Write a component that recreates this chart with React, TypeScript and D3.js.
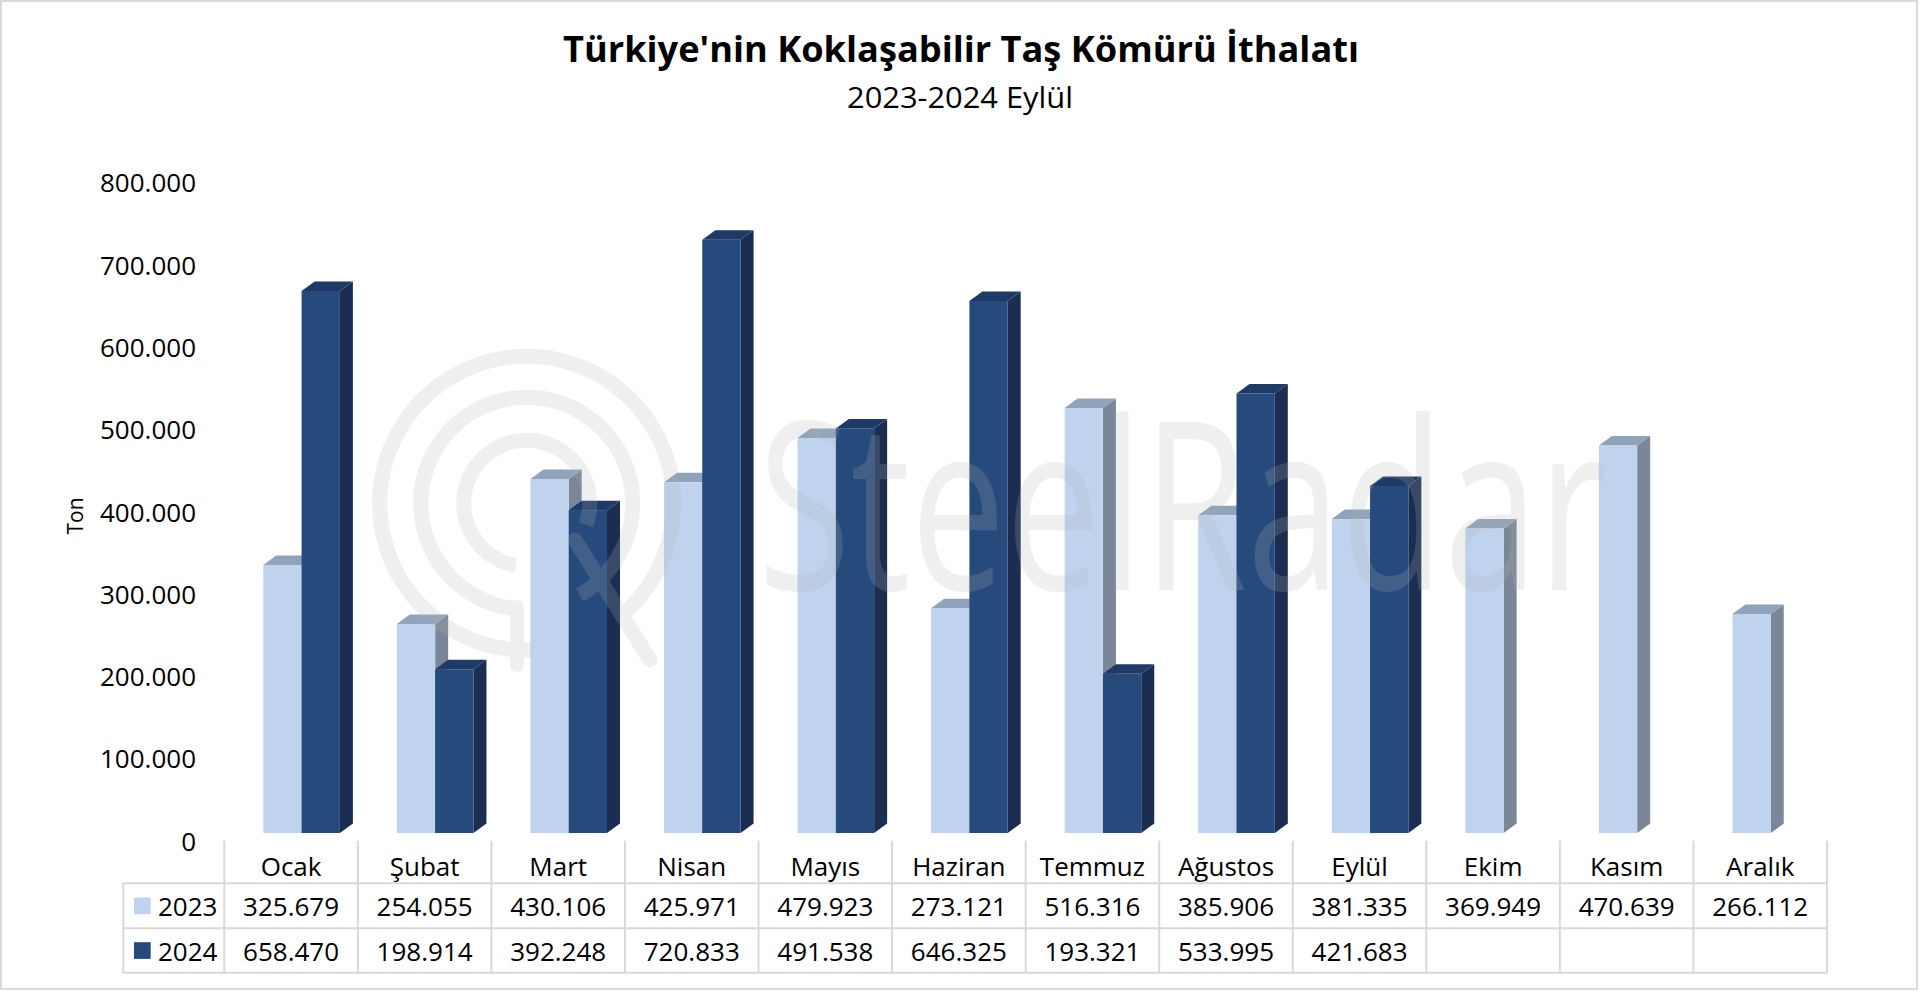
import React from "react";
import * as d3 from "d3";

const months = ["Ocak", "Şubat", "Mart", "Nisan", "Mayıs", "Haziran", "Temmuz", "Ağustos", "Eylül", "Ekim", "Kasım", "Aralık"];
const series = ["2023", "2024"];
const values2023: (number | null)[] = [325679, 254055, 430106, 425971, 479923, 273121, 516316, 385906, 381335, 369949, 470639, 266112];
const values2024: (number | null)[] = [658470, 198914, 392248, 720833, 491538, 646325, 193321, 533995, 421683, null, null, null];
const yTicks = [0, 100000, 200000, 300000, 400000, 500000, 600000, 700000, 800000];
const titleText = "Türkiye'nin Koklaşabilir Taş Kömürü İthalatı";
const subtitleText = "2023-2024 Eylül";
const axisTitle = "Ton";

const W = 1920;
const H = 991;
const FONT = "'Open Sans', 'Noto Sans', sans-serif";

const colors = {
  "2023": { front: "#bfd3ee", top: "#8fa3ba", side: "#7b8798" },
  "2024": { front: "#264a7c", top: "#1e3a66", side: "#1b2e52" },
};

const fmt = d3.formatLocale({ decimal: ",", thousands: ".", grouping: [3], currency: ["", ""] }).format(",d");

export default function App() {
  const x = d3.scaleBand<string>().domain(months).range([224.3, 1827]).paddingInner(0).paddingOuter(0);
  const xs = d3.scaleBand<string>().domain(series).range([39, 39 + 76.6]).padding(0);
  const y = d3.scaleLinear().domain([0, 800000]).range([840.8, 182.3]);
  const frontOff = 7.8;
  const dx = 13;
  const dy = 9.5;

  const bars: JSX.Element[] = [];
  months.forEach((m, i) => {
    const vals = [values2023[i], values2024[i]];
    series.forEach((s, j) => {
      const v = vals[j];
      if (v == null) return;
      const c = (colors as any)[s];
      const x0 = (x(m) as number) + (xs(s) as number);
      const w = xs.bandwidth();
      const yt = y(v) - frontOff;
      const yb = y(0) - frontOff;
      const top = `${x0},${yt} ${x0 + dx},${yt - dy} ${x0 + w + dx},${yt - dy} ${x0 + w},${yt}`;
      const side = `${x0 + w},${yt} ${x0 + w + dx},${yt - dy} ${x0 + w + dx},${yb - dy} ${x0 + w},${yb}`;
      bars.push(
        <g key={m + s}>
          <polygon points={side} fill={c.side} />
          <polygon points={top} fill={c.top} />
          <rect x={x0} y={yt} width={w} height={yb - yt} fill={c.front} />
        </g>
      );
    });
  });

  const tLeft = 123.3;
  const tRight = 1827;
  const yHeadTop = 840.7;
  const yRow1 = 883.3;
  const yRow2 = 928.3;
  const yRow3 = 972.7;
  const gridColor = "#d9d9d9";

  const cx = 526.7;
  const cy = 503.3;
  const arc = d3.arc();
  const deg = Math.PI / 180;
  const ringW = 15;
  const rings = [
    { r: 147, s: 178, e: 140 + 360 },
    { r: 106, s: 185, e: 150 + 360 },
    { r: 63, s: 190, e: 110 + 360 },
  ];

  return (
    <svg width={W} height={H} style={{ position: "absolute", left: 0, top: 0, background: "#fff" }} fontFamily={FONT}>
      <rect x={0} y={0} width={W} height={H} fill="#ffffff" />
      <rect x={1} y={1} width={1916} height={988} fill="none" stroke="#d9d9d9" strokeWidth={2} />

      <text x={961} y={62} textAnchor="middle" fontSize={36} fontWeight={700} fill="#000" textLength={796} lengthAdjust="spacingAndGlyphs">
        {titleText}
      </text>
      <text x={960} y={108} textAnchor="middle" fontSize={29} fill="#000" textLength={226} lengthAdjust="spacingAndGlyphs">
        {subtitleText}
      </text>

      {yTicks.map((t) => (
        <text key={t} x={196} y={y(t)} textAnchor="end" dominantBaseline="central" fontSize={26} fill="#000">
          {fmt(t)}
        </text>
      ))}
      <text transform={`translate(75,516) rotate(-90)`} textAnchor="middle" dominantBaseline="central" fontSize={21} fill="#000">
        {axisTitle}
      </text>

      {bars}

      <g stroke={gridColor} strokeWidth={2}>
        {d3.range(months.length + 1).map((i) => {
          const xx = i < months.length ? (x(months[i]) as number) : tRight;
          return <line key={i} x1={xx} x2={xx} y1={yHeadTop} y2={yRow3} />;
        })}
        <line x1={tLeft} x2={tLeft} y1={yRow1} y2={yRow3} />
        <line x1={tLeft} x2={tRight} y1={yRow1} y2={yRow1} />
        <line x1={tLeft} x2={tRight} y1={yRow2} y2={yRow2} />
        <line x1={tLeft} x2={tRight} y1={yRow3} y2={yRow3} />
      </g>
      {months.map((m) => (
        <text key={m} x={(x(m) as number) + x.bandwidth() / 2} y={(yHeadTop + yRow1) / 2 + 4} textAnchor="middle" dominantBaseline="central" fontSize={26} fill="#000">
          {m}
        </text>
      ))}
      {[values2023, values2024].map((vals, j) => {
        const rowMid = j === 0 ? (yRow1 + yRow2) / 2 : (yRow2 + yRow3) / 2;
        return (
          <g key={j}>
            <rect x={134} y={rowMid - 8.3} width={16.7} height={16.7} fill={(colors as any)[series[j]].front} />
            <text x={158} y={rowMid} dominantBaseline="central" fontSize={26} fill="#000">
              {series[j]}
            </text>
            {vals.map((v, i) =>
              v == null ? null : (
                <text key={i} x={(x(months[i]) as number) + x.bandwidth() / 2} y={rowMid} textAnchor="middle" dominantBaseline="central" fontSize={26} fill="#000">
                  {fmt(v)}
                </text>
              )
            )}
          </g>
        );
      })}

      <g opacity={0.2} fill="#b4b4b4" pointerEvents="none">
        {rings.map((rg, i) => (
          <path
            key={i}
            transform={`translate(${cx},${cy})`}
            d={arc({ innerRadius: rg.r - ringW / 2, outerRadius: rg.r + ringW / 2, startAngle: rg.s * deg, endAngle: rg.e * deg, cornerRadius: 7 } as any) as string}
          />
        ))}
        <rect x={510} y={600} width={14} height={72} rx={7} />
        <line x1={575} y1={540} x2={650} y2={660} stroke="#b4b4b4" strokeWidth={15} strokeLinecap="round" />
        <text x={758} y={590} fontSize={234} fontWeight={400} textLength={849} lengthAdjust="spacingAndGlyphs">
          SteelRadar
        </text>
      </g>
    </svg>
  );
}
